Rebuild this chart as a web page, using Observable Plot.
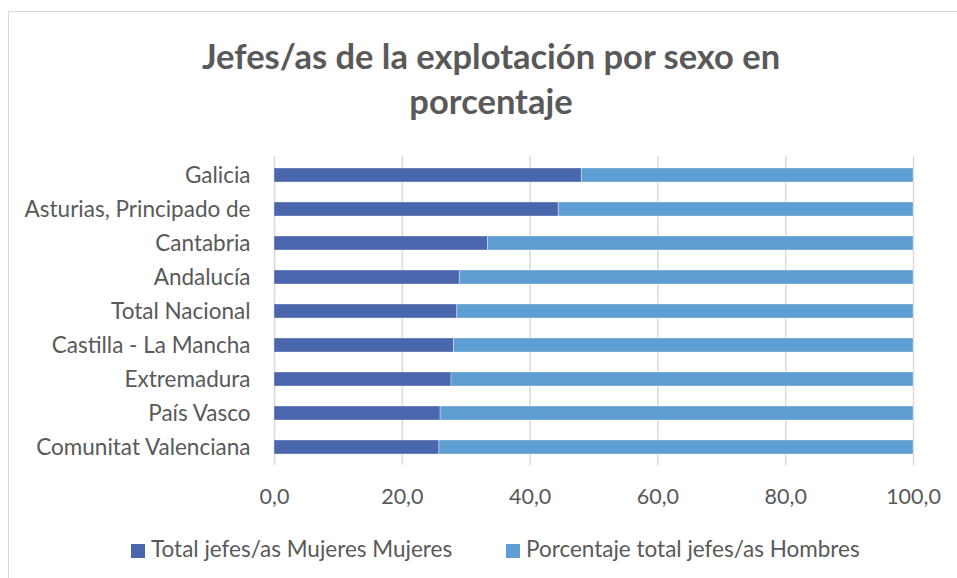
<!DOCTYPE html>
<html>
<head>
<meta charset="utf-8">
<script src="https://cdn.jsdelivr.net/npm/d3@7"></script>
<script src="https://cdn.jsdelivr.net/npm/@observablehq/plot@0.6"></script>
<style>
  html, body { margin: 0; padding: 0; background: #fff; }
  body { width: 957px; height: 578px; position: relative; overflow: hidden; font-family: Lato, "Open Sans", sans-serif; }
  #frame { position: absolute; left: 8px; top: 11px; width: 1000px; height: 600px; border: 1.5px solid #d9d9d9; box-sizing: border-box; }
  #title { position: absolute; left: 0; width: 982px; top: 33px; text-align: center; font-weight: bold; font-size: 34.5px; line-height: 45px; color: #595959; }
  #chart { position: absolute; left: 0; top: 0; }
  #legend { position: absolute; top: 535px; left: 0; width: 957px; font-size: 22.5px; color: #595959; }
  .item { position: absolute; top: 0; white-space: nowrap; line-height: 28px; }
  .sw { display: inline-block; width: 14px; height: 14px; margin-right: 6px; vertical-align: -1px; }
</style>
</head>
<body>
<div id="frame"></div>
<div id="chart"></div>
<div id="title">Jefes/as de la explotación por sexo en<br>porcentaje</div>
<div id="legend"></div>
<script>
const regions = ["Galicia", "Asturias, Principado de", "Cantabria", "Andalucía", "Total Nacional", "Castilla - La Mancha", "Extremadura", "País Vasco", "Comunitat Valenciana"];
const mujeres = [48.1, 44.5, 33.4, 29.0, 28.6, 28.1, 27.7, 26.0, 25.8];
const hombres = [51.9, 55.5, 66.6, 71.0, 71.4, 71.9, 72.3, 74.0, 74.2];
const seriesNames = ["Total jefes/as Mujeres Mujeres", "Porcentaje total jefes/as Hombres"];
const seriesColors = ["#4A66AC", "#5F9ED2"];
const xTicks = [0, 20, 40, 60, 80, 100];

const data = [];
regions.forEach((r, i) => {
  data.push({region: r, serie: seriesNames[0], value: mujeres[i]});
  data.push({region: r, serie: seriesNames[1], value: hombres[i]});
});

const fmt = d => d.toFixed(1).replace(".", ",");

const chart = Plot.plot({
  width: 957,
  height: 578,
  marginLeft: 274,
  marginRight: 44,
  marginTop: 156,
  marginBottom: 113,
  style: {fontFamily: "Lato, 'Open Sans', sans-serif", fontSize: "22.5px", color: "#595959", background: "transparent"},
  x: {domain: [0, 100], ticks: xTicks, tickFormat: fmt, label: null},
  y: {domain: regions, label: null, paddingInner: 0.59, paddingOuter: 0.295},
  color: {domain: seriesNames, range: seriesColors},
  marks: [
    Plot.gridX(xTicks, {stroke: "#d9d9d9", strokeOpacity: 1, strokeWidth: 1.5}),
    Plot.barX(data, Plot.stackX({x: "value", y: "region", fill: "serie", order: seriesNames, stroke: "#ffffff", strokeOpacity: 0.35, strokeWidth: 1})),
    Plot.axisX({ticks: xTicks, tickFormat: fmt, tickSize: 0, tickPadding: 23, label: null, fill: "#595959", fontSize: 21.5}),
    Plot.axisY({tickSize: 0, tickPadding: 24, label: null, fill: "#595959", fontSize: 22.5})
  ]
});
document.getElementById("chart").appendChild(chart);

const legend = document.getElementById("legend");
const lefts = [131, 506];
seriesNames.forEach((s, i) => {
  const it = document.createElement("div");
  it.className = "item";
  it.style.left = lefts[i] + "px";
  const sw = document.createElement("span");
  sw.className = "sw";
  sw.style.background = seriesColors[i];
  it.appendChild(sw);
  it.appendChild(document.createTextNode(s));
  legend.appendChild(it);
});
</script>
</body>
</html>
